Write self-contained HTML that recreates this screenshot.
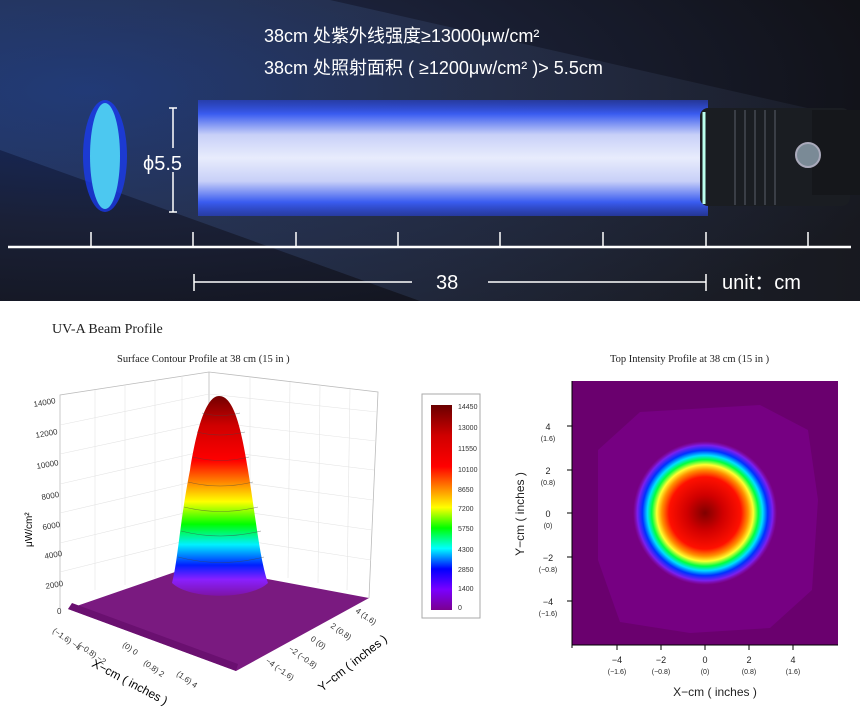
<!DOCTYPE html>
<html><head><meta charset="utf-8"><style>
body{margin:0;width:860px;height:717px;overflow:hidden;background:#fff;font-family:"Liberation Sans","Noto Sans CJK SC",sans-serif;}
</style></head><body>
<svg width="860" height="717" viewBox="0 0 860 717" xmlns="http://www.w3.org/2000/svg">
<defs>
<radialGradient id="bg" cx="0.1" cy="0.3" r="1.0">
<stop offset="0" stop-color="#142a66"/><stop offset="0.45" stop-color="#1a2036"/><stop offset="1" stop-color="#101014"/>
</radialGradient>
<linearGradient id="beam" x1="0" y1="0" x2="0" y2="1">
<stop offset="0" stop-color="#2a44d8" stop-opacity="0.6"/><stop offset="0.12" stop-color="#3a5cf0"/><stop offset="0.3" stop-color="#c8d0f8"/><stop offset="0.5" stop-color="#e8ecfc"/><stop offset="0.7" stop-color="#c8d0f8"/><stop offset="0.88" stop-color="#3a5cf0"/><stop offset="1" stop-color="#2a44d8" stop-opacity="0.6"/>
</linearGradient>
<linearGradient id="light" x1="0" y1="0" x2="1" y2="0">
<stop offset="0" stop-color="#3a5a9a" stop-opacity="0.35"/><stop offset="1" stop-color="#5a6a8a" stop-opacity="0.1"/>
</linearGradient>
<linearGradient id="cb" x1="0" y1="1" x2="0" y2="0">
<stop offset="0" stop-color="#7a0090"/><stop offset="0.1" stop-color="#7a00ff"/><stop offset="0.2" stop-color="#0000ff"/><stop offset="0.3" stop-color="#00ffff"/><stop offset="0.4" stop-color="#00ff00"/><stop offset="0.5" stop-color="#ffff00"/><stop offset="0.6" stop-color="#ff8000"/><stop offset="0.7" stop-color="#ff0000"/><stop offset="0.85" stop-color="#d00000"/><stop offset="1" stop-color="#6a0000"/>
</linearGradient>
<linearGradient id="peak" gradientUnits="userSpaceOnUse" x1="0" y1="600" x2="0" y2="395">
<stop offset="0" stop-color="#7a1090"/><stop offset="0.1" stop-color="#8a20ff"/><stop offset="0.17" stop-color="#0020ff"/><stop offset="0.27" stop-color="#00f0ff"/><stop offset="0.37" stop-color="#00ff00"/><stop offset="0.48" stop-color="#ffff00"/><stop offset="0.58" stop-color="#ff8000"/><stop offset="0.68" stop-color="#ff0000"/><stop offset="0.85" stop-color="#d00000"/><stop offset="1" stop-color="#700000"/>
</linearGradient>
<radialGradient id="heat" cx="705" cy="513" r="72" gradientUnits="userSpaceOnUse">
<stop offset="0" stop-color="#800000"/><stop offset="0.25" stop-color="#d00000"/><stop offset="0.5" stop-color="#ff1000"/><stop offset="0.6" stop-color="#ff9000"/><stop offset="0.67" stop-color="#ffff30"/><stop offset="0.74" stop-color="#00ff40"/><stop offset="0.8" stop-color="#00e0ff"/><stop offset="0.87" stop-color="#0030ff"/><stop offset="0.94" stop-color="#7a20f0"/><stop offset="1" stop-color="#8a10c0" stop-opacity="0"/>
</radialGradient>
</defs>
<rect x="0" y="0" width="860" height="301" fill="url(#bg)"/>
<polygon points="0,0 330,0 860,120 860,301 420,301 0,150" fill="url(#light)"/>
<ellipse cx="105" cy="156" rx="22" ry="56" fill="#1a3cff" opacity="0.7"/>
<ellipse cx="105" cy="156" rx="15" ry="53" fill="#4cc8f0"/>
<rect x="198" y="100" width="510" height="116" fill="url(#beam)"/>
<rect x="700" y="108" width="150" height="98" rx="8" fill="#1a1d22"/>
<rect x="812" y="110" width="48" height="85" fill="#15171b"/>
<g stroke="#3a3e46" stroke-width="2"><line x1="735" y1="110" x2="735" y2="205"/><line x1="745" y1="110" x2="745" y2="205"/><line x1="755" y1="110" x2="755" y2="205"/><line x1="765" y1="110" x2="765" y2="205"/><line x1="775" y1="110" x2="775" y2="205"/></g>
<circle cx="808" cy="155" r="12" fill="#7a8a96" stroke="#aab" stroke-width="2"/>
<line x1="704" y1="112" x2="704" y2="204" stroke="#bfe" stroke-width="3"/>
<g stroke="#fff" stroke-width="1.5" fill="none">
<line x1="173" y1="108" x2="173" y2="148"/><line x1="173" y1="172" x2="173" y2="212"/><line x1="169" y1="108" x2="177" y2="108"/><line x1="169" y1="212" x2="177" y2="212"/>
<line x1="8" y1="247" x2="851" y2="247" stroke-width="2.5"/>
<line x1="91" y1="232" x2="91" y2="246"/><line x1="193" y1="232" x2="193" y2="246"/><line x1="296" y1="232" x2="296" y2="246"/><line x1="398" y1="232" x2="398" y2="246"/><line x1="500" y1="232" x2="500" y2="246"/><line x1="603" y1="232" x2="603" y2="246"/><line x1="706" y1="232" x2="706" y2="246"/><line x1="808" y1="232" x2="808" y2="246"/>
<line x1="194" y1="282" x2="412" y2="282"/><line x1="488" y1="282" x2="706" y2="282"/><line x1="194" y1="274" x2="194" y2="291"/><line x1="706" y1="274" x2="706" y2="291"/>
</g>
<g fill="#fff" font-size="18">
<text x="264" y="42">38cm 处紫外线强度≥13000μw/cm²</text>
<text x="264" y="74">38cm 处照射面积 ( ≥1200μw/cm² )&gt; 5.5cm</text>
<text x="143" y="170" font-size="20">ϕ5.5</text>
<text x="436" y="289" font-size="20">38</text>
<text x="722" y="289" font-size="20">unit：cm</text>
</g>
<text x="52" y="333" font-family="Liberation Serif,serif" font-size="14" fill="#222">UV-A Beam Profile</text>
<text x="117" y="362" font-family="Liberation Serif,serif" font-size="10.5" fill="#222">Surface Contour Profile at 38 cm (15 in )</text>
<text x="610" y="362" font-family="Liberation Serif,serif" font-size="10.5" fill="#222">Top Intensity Profile at 38 cm (15 in )</text>
<g stroke="#bbb" stroke-width="0.8" fill="none">
<polyline points="60,608 60,395 209,372 378,392 369,598"/>
<line x1="209" y1="372" x2="209" y2="568"/>
</g>
<g stroke="#e4e4e4" stroke-width="0.6">
<line x1="60" y1="572" x2="209" y2="535"/><line x1="60" y1="543" x2="209" y2="507"/><line x1="60" y1="513" x2="209" y2="478"/><line x1="60" y1="484" x2="209" y2="450"/><line x1="60" y1="454" x2="209" y2="422"/><line x1="60" y1="425" x2="209" y2="394"/>
<line x1="209" y1="535" x2="371" y2="560"/><line x1="209" y1="507" x2="372" y2="530"/><line x1="209" y1="478" x2="373" y2="500"/><line x1="209" y1="450" x2="374" y2="470"/><line x1="209" y1="422" x2="376" y2="441"/><line x1="209" y1="394" x2="377" y2="412"/>
<line x1="95" y1="390" x2="95" y2="590"/><line x1="125" y1="385" x2="125" y2="585"/><line x1="155" y1="380" x2="155" y2="578"/><line x1="182" y1="376" x2="182" y2="572"/>
<line x1="250" y1="377" x2="250" y2="572"/><line x1="290" y1="382" x2="288" y2="578"/><line x1="320" y1="385" x2="318" y2="583"/><line x1="350" y1="389" x2="347" y2="590"/>
</g>
<polygon points="68,609 175,572 209,568 369,598 236,671" fill="#7a1a80"/>
<polygon points="68,609 236,671 238,664 72,603" fill="#6a1070"/>
<path d="M172,583 C178,560 180,520 190,470 C198,420 208,396 219,396 C232,396 240,420 248,470 C256,520 260,560 268,583 C250,600 190,600 172,583 Z" fill="url(#peak)"/>
<g stroke="#444" stroke-width="0.6" fill="none" opacity="0.6">
<path d="M178,557 Q220,568 264,557"/><path d="M181,531 Q220,541 261,531"/><path d="M184,507 Q220,516 258,507"/><path d="M188,482 Q220,490 253,482"/><path d="M193,457 Q220,464 249,457"/><path d="M197,432 Q220,438 245,432"/><path d="M202,413 Q220,418 240,413"/>
</g>
<g font-size="8" fill="#333">
<text x="34" y="407" transform="rotate(-10 34 407)">14000</text>
<text x="36" y="438" transform="rotate(-10 36 438)">12000</text>
<text x="37" y="469" transform="rotate(-10 37 469)">10000</text>
<text x="42" y="500" transform="rotate(-10 42 500)">8000</text>
<text x="43" y="530" transform="rotate(-10 43 530)">6000</text>
<text x="45" y="559" transform="rotate(-10 45 559)">4000</text>
<text x="46" y="589" transform="rotate(-10 46 589)">2000</text>
<text x="57" y="614">0</text>
<text x="32" y="547" transform="rotate(-90 32 547)" font-size="10" fill="#000">μW/cm²</text>
<text x="52" y="632" transform="rotate(35 52 632)">(−1.6) −4</text>
<text x="77" y="646" transform="rotate(35 77 646)">(−0.8) −2</text>
<text x="122" y="646" transform="rotate(35 122 646)">(0) 0</text>
<text x="143" y="664" transform="rotate(35 143 664)">(0.8) 2</text>
<text x="176" y="675" transform="rotate(35 176 675)">(1.6) 4</text>
<text x="91" y="666" transform="rotate(28 91 666)" font-size="12" fill="#000">X−cm ( inches )</text>
<text x="355" y="612" transform="rotate(35 355 612)">4 (1.6)</text>
<text x="330" y="627" transform="rotate(35 330 627)">2 (0.8)</text>
<text x="310" y="640" transform="rotate(35 310 640)">0 (0)</text>
<text x="288" y="650" transform="rotate(35 288 650)">−2 (−0.8)</text>
<text x="265" y="662" transform="rotate(35 265 662)">−4 (−1.6)</text>
<text x="322" y="692" transform="rotate(-38 322 692)" font-size="12" fill="#000">Y−cm ( inches )</text>
</g>
<rect x="422" y="394" width="58" height="224" fill="#fff" stroke="#aaa"/>
<rect x="431" y="405" width="21" height="205" fill="url(#cb)"/>
<g font-size="7" fill="#333">
<text x="458" y="409">14450</text><text x="458" y="430">13000</text><text x="458" y="451">11550</text><text x="458" y="472">10100</text><text x="458" y="492">8650</text><text x="458" y="511">7200</text><text x="458" y="531">5750</text><text x="458" y="552">4300</text><text x="458" y="572">2850</text><text x="458" y="591">1400</text><text x="458" y="610">0</text>
</g>
<rect x="572" y="381" width="266" height="264" fill="#6a006e"/>
<polygon points="640,412 760,405 808,430 818,500 812,590 770,628 690,633 620,622 598,560 598,450" fill="#760082"/>
<circle cx="705" cy="513" r="72" fill="url(#heat)"/>
<g stroke="#000" stroke-width="1">
<line x1="572" y1="381" x2="572" y2="648"/><line x1="572" y1="645" x2="838" y2="645"/>
<line x1="567" y1="426" x2="572" y2="426"/><line x1="567" y1="470" x2="572" y2="470"/><line x1="567" y1="513" x2="572" y2="513"/><line x1="567" y1="557" x2="572" y2="557"/><line x1="567" y1="601" x2="572" y2="601"/>
<line x1="617" y1="645" x2="617" y2="650"/><line x1="661" y1="645" x2="661" y2="650"/><line x1="705" y1="645" x2="705" y2="650"/><line x1="749" y1="645" x2="749" y2="650"/><line x1="793" y1="645" x2="793" y2="650"/>
</g>
<g font-size="9" fill="#222" text-anchor="middle">
<text x="548" y="430">4</text><text x="548" y="441" font-size="7">(1.6)</text>
<text x="548" y="474">2</text><text x="548" y="485" font-size="7">(0.8)</text>
<text x="548" y="517">0</text><text x="548" y="528" font-size="7">(0)</text>
<text x="548" y="561">−2</text><text x="548" y="572" font-size="7">(−0.8)</text>
<text x="548" y="605">−4</text><text x="548" y="616" font-size="7">(−1.6)</text>
<text x="617" y="663">−4</text><text x="617" y="674" font-size="7">(−1.6)</text>
<text x="661" y="663">−2</text><text x="661" y="674" font-size="7">(−0.8)</text>
<text x="705" y="663">0</text><text x="705" y="674" font-size="7">(0)</text>
<text x="749" y="663">2</text><text x="749" y="674" font-size="7">(0.8)</text>
<text x="793" y="663">4</text><text x="793" y="674" font-size="7">(1.6)</text>
<text x="715" y="696" font-size="12">X−cm ( inches )</text>
<text x="524" y="514" font-size="12" transform="rotate(-90 524 514)">Y−cm ( inches )</text>
</g>
</svg>
</body></html>
